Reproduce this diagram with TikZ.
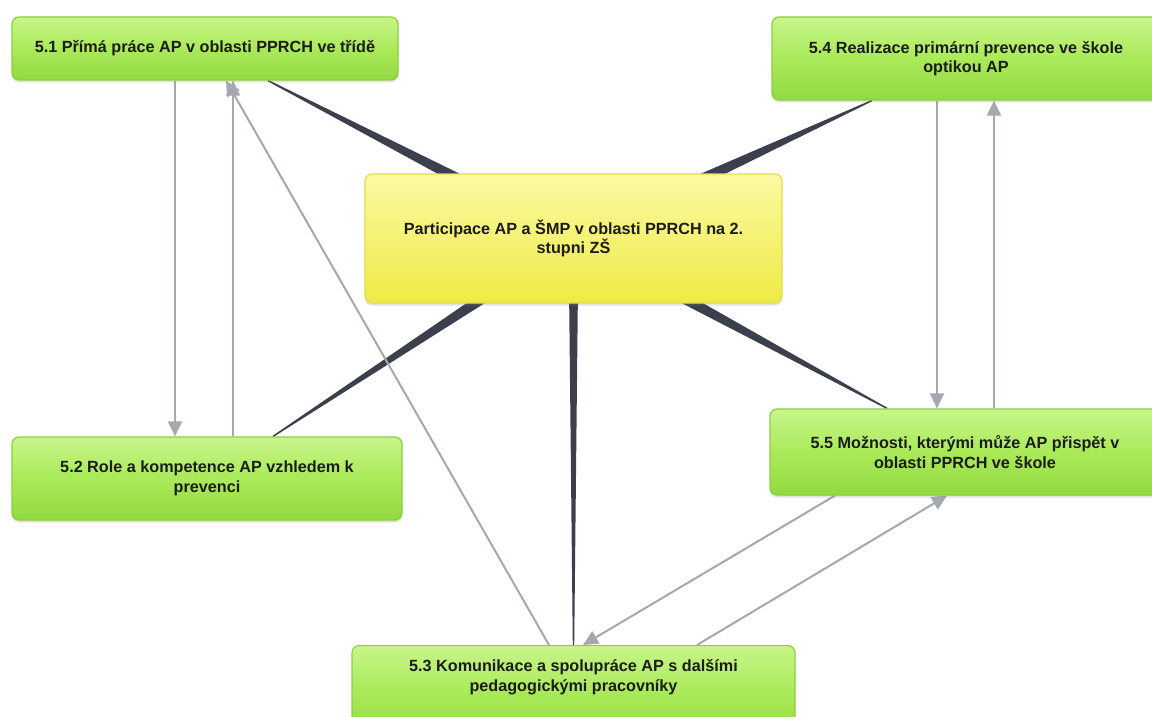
\documentclass[tikz,border=0pt]{standalone}
\usepackage{fontspec}
\setmainfont{Liberation Sans}
\usetikzlibrary{arrows.meta,calc,shadows,backgrounds}
\definecolor{gtop}{HTML}{C8F58A}
\definecolor{gmid}{HTML}{AAEA5A}
\definecolor{gbot}{HTML}{92DA40}
\definecolor{gborder}{HTML}{8AD03C}
\definecolor{ytop}{HTML}{FBFAA2}
\definecolor{ybot}{HTML}{EEEA45}
\definecolor{yborder}{HTML}{E3DD4A}
\definecolor{txtc}{HTML}{1C1C1C}
\definecolor{wedgecol}{HTML}{3C404C}
\definecolor{arrc}{HTML}{A6A8B0}
\newcommand\wedgeto[2]{\fill[wedgec] ($(c.center)!#1!90:(#2)$) -- ($(#2)!0.7pt!-90:(c.center)$) -- ($(#2)!0.7pt!90:(c.center)$) -- ($(c.center)!#1!-90:(#2)$) -- cycle;}
\begin{document}
\begin{tikzpicture}[x=1pt,y=-1pt,
  txt/.style={align=center, font=\fontsize{16.2}{19.5}\selectfont\bfseries, text=txtc, inner sep=0pt},
  box/.style={txt, rounded corners=7pt, line width=1.2pt,
    drop shadow={opacity=0.22, shadow xshift=0pt, shadow yshift=-2.5pt}},
  gbox/.style={box, draw=gborder, top color=gtop, bottom color=gbot, middle color=gmid},
  ybox/.style={box, draw=yborder, top color=ytop, bottom color=ybot},
  arr/.style={draw=arrc, line width=2pt, -{Triangle[length=15pt,width=14pt]}},
  wedgec/.style={fill=wedgecol}]
\useasboundingbox (0,0) rectangle (1152,717);
\node[gbox, minimum width=386pt, minimum height=63pt] (n51) at (205,48.5) {5.1 Přímá práce AP v oblasti PPRCH ve třídě};
\node[gbox, minimum width=388pt, minimum height=83pt] (n54) at (966,58.5) {5.4 Realizace primární prevence ve škole\\optikou AP};
\node[ybox, minimum width=417pt, minimum height=129pt] (c) at (573.5,238.5) {Participace AP a ŠMP v oblasti PPRCH na 2.\\stupni ZŠ};
\node[gbox, minimum width=390pt, minimum height=83pt] (n52) at (207,478.5) {5.2 Role a kompetence AP vzhledem k\\prevenci};
\node[gbox, minimum width=390pt, minimum height=86pt] (n55) at (965,452) {5.5 Možnosti, kterými může AP přispět v\\oblasti PPRCH ve škole};
\node[gbox, minimum width=443pt, minimum height=90pt, anchor=north] (n53) at (573.5,645) {};
\node[txt] (t53) at ($(n53.north)+(0,32)$) {5.3 Komunikace a spolupráce AP s dalšími\\pedagogickými pracovníky};
\coordinate (e1) at ([xshift=63pt]n51.south);
\coordinate (e4) at ([xshift=-94pt]n54.south);
\coordinate (e2) at ([xshift=66pt]n52.north);
\coordinate (e3) at (n53.north);
\coordinate (e5) at ([xshift=-78pt]n55.north);
\begin{scope}[on background layer]
\fill[white] (0,0) rectangle (1152,717);
\wedgeto{8.1pt}{e1}
\wedgeto{9.1pt}{e4}
\wedgeto{7.1pt}{e2}
\wedgeto{5.0pt}{e3}
\wedgeto{7.7pt}{e5}
\draw[arr] ([xshift=-30pt]n51.south) -- ([xshift=-30pt]n51.south |- n52.north);
\draw[arr] ([xshift=26pt]n52.north) -- ([xshift=26pt]n52.north |- n51.south);
\draw[arr] ([xshift=-24.5pt]n53.north) -- ([xshift=21pt]n51.south);
\draw[arr] ([xshift=-29pt]n54.south) -- ([xshift=-29pt]n54.south |- n55.north);
\draw[arr] ([xshift=29pt]n55.north) -- ([xshift=29pt]n55.north |- n54.south);
\draw[arr] ([xshift=-130pt]n55.south) -- ([xshift=9.5pt]n53.north);
\draw[arr] ([xshift=123.5pt]n53.north) -- ([xshift=-18pt]n55.south);
\end{scope}
\end{tikzpicture}
\end{document}
